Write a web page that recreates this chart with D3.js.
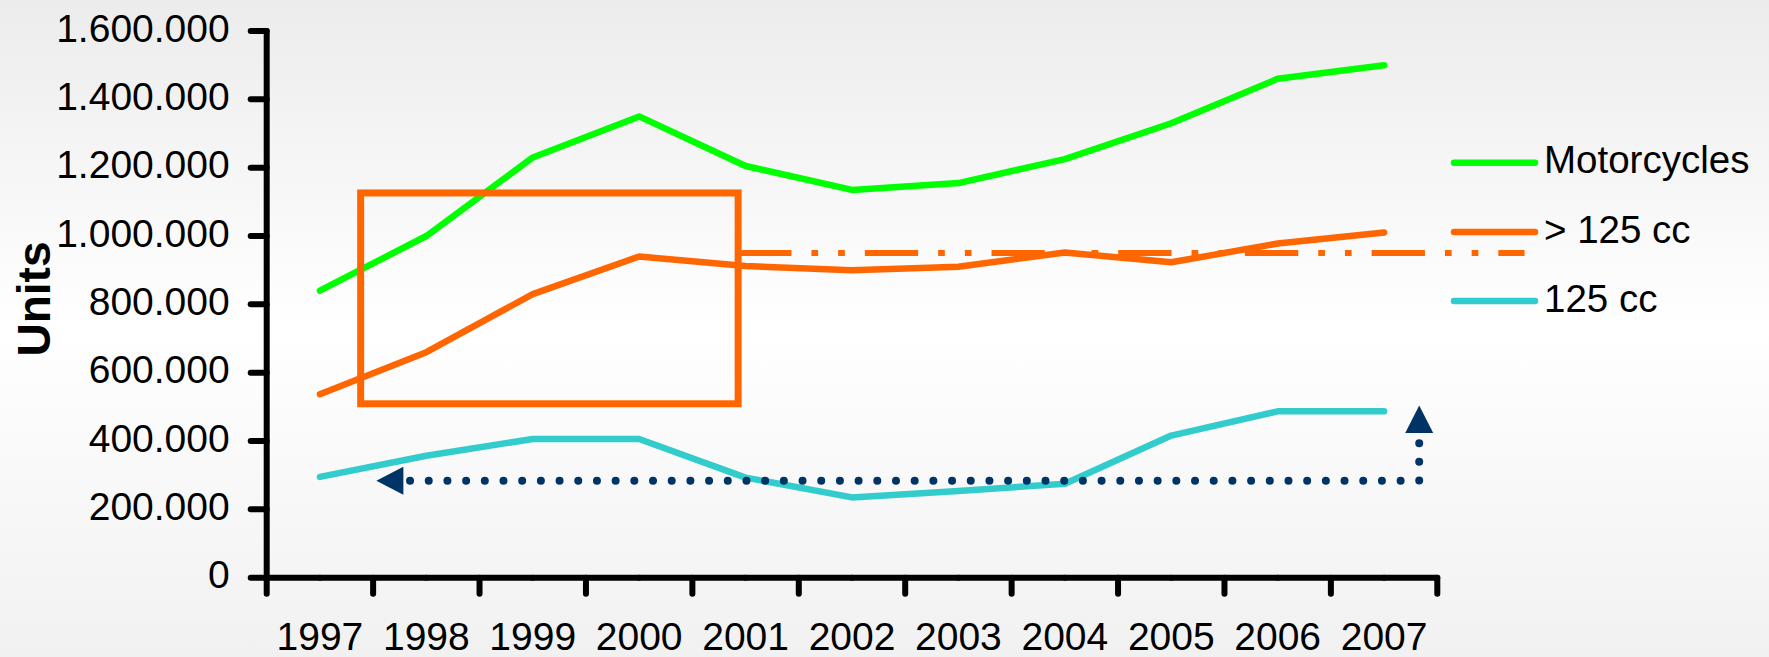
<!DOCTYPE html>
<html>
<head>
<meta charset="utf-8">
<script src="https://cdn.jsdelivr.net/npm/d3@7"></script>
<style>
  html, body { margin: 0; padding: 0; }
  body { font-family: Arial, "Liberation Sans", sans-serif; }
</style>
</head>
<body>
<script>
// data
let years = ["1997","1998","1999","2000","2001","2002","2003","2004","2005","2006","2007"];
let motorcycles = [840000, 1000000, 1230000, 1350000, 1205000, 1135000, 1155000, 1225000, 1330000, 1460000, 1500000];
let over125 = [537000, 660000, 830000, 940000, 912000, 900000, 910000, 952000, 923000, 978000, 1010000];
let cc125 = [295000, 357000, 406000, 406000, 293000, 235000, 254000, 275000, 416000, 487000, 487000];
let seriesNames = ["Motorcycles", "> 125 cc", "125 cc"];
let seriesColors = ["#00ff00", "#ff6600", "#33cccc"];
let yTicks = [0, 200000, 400000, 600000, 800000, 1000000, 1200000, 1400000, 1600000];

let w = 1769;
let h = 657;

let svg = d3.select("body")
            .append("svg")
            .attr("width", w)
            .attr("height", h);

// background gradient
let grad = svg.append("defs").append("linearGradient")
              .attr("id", "bg")
              .attr("x1", 0).attr("y1", 0).attr("x2", 0).attr("y2", 1);
grad.append("stop").attr("offset", "0%").attr("stop-color", "#ececec");
grad.append("stop").attr("offset", "50%").attr("stop-color", "#ffffff");
grad.append("stop").attr("offset", "100%").attr("stop-color", "#f1f1f1");
svg.append("rect").attr("width", w).attr("height", h).attr("fill", "url(#bg)");

// scales: index scale so ticks sit between years
let x = d3.scaleLinear().domain([-0.5, years.length - 0.5]).range([266.7, 1437.3]);
let y = d3.scaleLinear().domain([0, 1600000]).range([577.7, 31]);

let fmt = d3.formatLocale({decimal: ",", thousands: ".", grouping: [3], currency: ["", ""]}).format(",d");

// y axis
let yAxis = svg.append("g")
   .attr("transform", "translate(266.7,0)")
   .call(d3.axisLeft(y).tickValues(yTicks).tickSize(16).tickSizeOuter(0).tickPadding(21).tickFormat(fmt).offset(0));

// x axis: boundary ticks
let boundaries = d3.range(-0.5, years.length, 1);
svg.append("g")
   .attr("transform", "translate(0,577.7)")
   .call(d3.axisBottom(x).tickValues(boundaries).tickSize(16).tickSizeOuter(0).tickFormat("").offset(0));

// x labels centered on each year
svg.append("g")
   .attr("transform", "translate(0,577.7)")
   .call(d3.axisBottom(x).tickValues(d3.range(years.length)).tickSize(0).tickPadding(45)
           .tickFormat(i => years[i]).offset(0))
   .call(g => g.select(".domain").remove());

svg.selectAll(".domain, .tick line")
   .attr("stroke", "#000")
   .attr("stroke-width", 6)
   .attr("stroke-linecap", "round")
   .attr("stroke-linejoin", "round");

svg.selectAll(".tick text")
   .attr("font-family", "Arial, 'Liberation Sans', sans-serif")
   .attr("font-size", 39)
   .attr("fill", "#000");
yAxis.selectAll(".tick text").attr("dy", "0.27em");

// y title
svg.append("text")
   .attr("transform", "translate(50,299) rotate(-90)")
   .attr("text-anchor", "middle")
   .attr("font-family", "Arial, 'Liberation Sans', sans-serif")
   .attr("font-weight", "bold")
   .attr("font-size", 46)
   .text("Units");

// lines
let line = d3.line()
             .x((d, i) => x(i))
             .y(d => y(d));

let allSeries = [motorcycles, over125, cc125];
svg.selectAll(".series")
   .data(allSeries)
   .enter()
   .append("path")
   .attr("class", "series")
   .attr("d", d => line(d))
   .attr("fill", "none")
   .attr("stroke", (d, i) => seriesColors[i])
   .attr("stroke-width", 6.5)
   .attr("stroke-linecap", "round")
   .attr("stroke-linejoin", "round");

// annotations
let boxLeft = 0.383, boxRight = 3.93, boxTop = 1126000, boxBottom = 509000;
svg.append("rect")
   .attr("x", x(boxLeft))
   .attr("y", y(boxTop))
   .attr("width", x(boxRight) - x(boxLeft))
   .attr("height", y(boxBottom) - y(boxTop))
   .attr("fill", "none")
   .attr("stroke", "#ff6600")
   .attr("stroke-width", 7);

let levelValue = 950000, levelEnd = 11.32;
svg.append("line")
   .attr("x1", x(boxRight)).attr("x2", x(levelEnd))
   .attr("y1", y(levelValue)).attr("y2", y(levelValue))
   .attr("stroke", "#ff6600")
   .attr("stroke-width", 6)
   .attr("stroke-dasharray", "53.3 20 6.7 20 6.7 20");

let arrowValue = 284000, arrowLeft = 0.847, arrowRight = 10.33, arrowTop = 394000;
let navy = "#003366";
svg.append("path")
   .attr("d", `M${x(arrowLeft)},${y(arrowValue)}H${x(arrowRight)}V${y(arrowTop)}`)
   .attr("fill", "none")
   .attr("stroke", navy)
   .attr("stroke-width", 8)
   .attr("stroke-linecap", "round")
   .attr("stroke-dasharray", "0 18.69");

// arrow heads
let ax = x(arrowLeft) - 6.7, ay = y(arrowValue);
svg.append("path")
   .attr("d", `M${ax - 27},${ay}L${ax},${ay - 14}L${ax},${ay + 14}Z`)
   .attr("fill", navy);
let ux = x(arrowRight), uy = y(arrowTop) - 10;
svg.append("path")
   .attr("d", `M${ux},${uy - 27.7}L${ux - 14},${uy}L${ux + 14},${uy}Z`)
   .attr("fill", navy);

// legend
let legend = svg.selectAll(".legend")
   .data(seriesNames)
   .enter()
   .append("g")
   .attr("class", "legend")
   .attr("transform", (d, i) => `translate(1454,${162.7 + i * 69.2})`);
legend.append("line")
   .attr("x1", 0).attr("x2", 81)
   .attr("stroke", (d, i) => seriesColors[i])
   .attr("stroke-width", 6.5)
   .attr("stroke-linecap", "round");
legend.append("text")
   .attr("x", 90)
   .attr("y", 10.6)
   .attr("font-family", "Arial, 'Liberation Sans', sans-serif")
   .attr("font-size", 38.5)
   .text(d => d);
</script>
</body>
</html>
